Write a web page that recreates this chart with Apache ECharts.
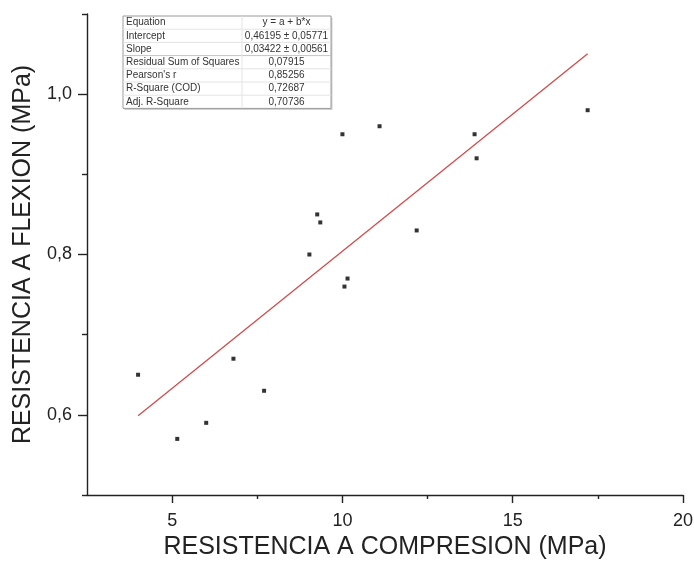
<!DOCTYPE html>
<html>
<head>
<meta charset="utf-8">
<script src="https://cdn.jsdelivr.net/npm/echarts@6/dist/echarts.min.js"></script>
<style>
  html, body { margin: 0; padding: 0; background: #fff; }
  #chart { width: 694px; height: 570px; }
</style>
</head>
<body>
<div id="chart"></div>
<script>
// compresion (MPa) vs flexion (MPa)
const compresion = [4.0, 5.15, 6.0, 6.8, 7.7, 9.03, 9.26, 9.35, 10.0, 10.06, 10.15, 11.09, 12.18, 13.88, 13.94, 17.2];
const flexion = [0.65, 0.57, 0.59, 0.67, 0.63, 0.80, 0.85, 0.84, 0.95, 0.76, 0.77, 0.96, 0.83, 0.95, 0.92, 0.98];

// linear fit results (from the table)
const intercept = 0.46195;
const slope = 0.03422;

const xMajor = [5, 10, 15, 20];
const xMinor = [7.5, 12.5, 17.5];
const yMajor = [0.6, 0.8, 1.0];
const yMinor = [0.5, 0.7, 0.9, 1.1];

const tableLabels = ['Equation', 'Intercept', 'Slope', 'Residual Sum of Squares', "Pearson's r", 'R-Square (COD)', 'Adj. R-Square'];
const tableValues = ['y = a + b*x', '0,46195 \u00b1 0,05771', '0,03422 \u00b1 0,00561', '0,07915', '0,85256', '0,72687', '0,70736'];

const points = compresion.map((x, i) => [x, flexion[i]]);
const xMin = Math.min(...compresion), xMax = Math.max(...compresion);
const fitLine = [[xMin, intercept + slope * xMin], [xMax, intercept + slope * xMax]];

const comma = v => v.toFixed(1).replace('.', ',');
const font = 'Liberation Sans, Arial, sans-serif';

// table drawn as graphic
const tLeft = 123, tTop = 16, tW = 208, rowH = 13.2, colX = 242;
const tableEls = [];
tableEls.push({ type: 'rect', shape: { x: tLeft + 1.5, y: tTop + 1.5, width: tW, height: rowH * tableLabels.length }, style: { fill: '#d0d0d0' }, silent: true });
tableEls.push({ type: 'rect', shape: { x: tLeft, y: tTop, width: tW, height: rowH * tableLabels.length }, style: { fill: '#fff', stroke: '#9a9a9a', lineWidth: 1 }, silent: true });
tableLabels.forEach((lab, i) => {
  const y = tTop + rowH * i;
  if (i > 0) {
    tableEls.push({ type: 'line', shape: { x1: tLeft, y1: y, x2: tLeft + tW, y2: y }, style: { stroke: i === 3 ? '#c4c4c4' : '#e4e4e4', lineWidth: 1 }, silent: true });
  }
  tableEls.push({ type: 'text', style: { x: tLeft + 3, y: y + rowH / 2, text: lab, fill: '#333', font: '10px ' + font, textVerticalAlign: 'middle' }, silent: true });
  tableEls.push({ type: 'text', style: { x: (colX + tLeft + tW) / 2, y: y + rowH / 2, text: tableValues[i], fill: '#333', font: '10px ' + font, textAlign: 'center', textVerticalAlign: 'middle' }, silent: true });
});
tableEls.push({ type: 'line', shape: { x1: colX, y1: tTop, x2: colX, y2: tTop + rowH * tableLabels.length }, style: { stroke: '#e4e4e4', lineWidth: 1 }, silent: true });

const chart = echarts.init(document.getElementById('chart'), null, { renderer: 'canvas' });

const axisCommon = {
  type: 'value',
  splitLine: { show: false },
  axisLine: { onZero: false, lineStyle: { color: '#222', width: 1.4 } }
};

const ops = {
  animation: false,
  backgroundColor: '#fff',
  grid: { left: 87, right: 11, top: 14, bottom: 75, outerBoundsMode: 'none', containLabel: false },
  xAxis: [
    Object.assign({}, axisCommon, {
      min: 2.5, max: 20, interval: 2.5,
      name: 'RESISTENCIA A COMPRESION (MPa)',
      nameLocation: 'middle', nameGap: 40,
      nameTextStyle: { fontFamily: font, fontSize: 25, color: '#222' },
      axisTick: { show: true, inside: false, length: 8, customValues: xMajor, lineStyle: { color: '#222', width: 1.4 } },
      axisLabel: { customValues: xMajor, fontFamily: font, fontSize: 18, color: '#222', margin: 17 }
    }),
    Object.assign({}, axisCommon, {
      min: 2.5, max: 20, interval: 2.5, position: 'bottom',
      axisLine: { show: false },
      axisTick: { show: true, length: 4, customValues: xMinor, lineStyle: { color: '#222', width: 1.4 } },
      axisLabel: { show: false }
    })
  ],
  yAxis: [
    Object.assign({}, axisCommon, {
      min: 0.5, max: 1.1, interval: 0.1,
      name: 'RESISTENCIA A FLEXION (MPa)',
      nameLocation: 'middle', nameGap: 42,
      nameTextStyle: { fontFamily: font, fontSize: 25, color: '#222' },
      axisTick: { show: true, length: 9, customValues: yMajor, lineStyle: { color: '#222', width: 1.4 } },
      axisLabel: { customValues: yMajor, formatter: comma, fontFamily: font, fontSize: 18, color: '#222', margin: 15 }
    }),
    Object.assign({}, axisCommon, {
      min: 0.5, max: 1.1, interval: 0.1, position: 'left',
      axisLine: { show: false },
      axisTick: { show: true, length: 5, customValues: yMinor, lineStyle: { color: '#222', width: 1.4 } },
      axisLabel: { show: false }
    })
  ],
  series: [
    {
      type: 'scatter',
      data: points,
      symbol: 'rect',
      symbolSize: 4,
      itemStyle: { color: '#000' },
      z: 3
    },
    {
      type: 'line',
      data: fitLine,
      symbol: 'none',
      lineStyle: { color: '#d24b4b', width: 1.3 },
      z: 2
    }
  ],
  graphic: tableEls
};

chart.setOption(ops);
</script>
</body>
</html>
